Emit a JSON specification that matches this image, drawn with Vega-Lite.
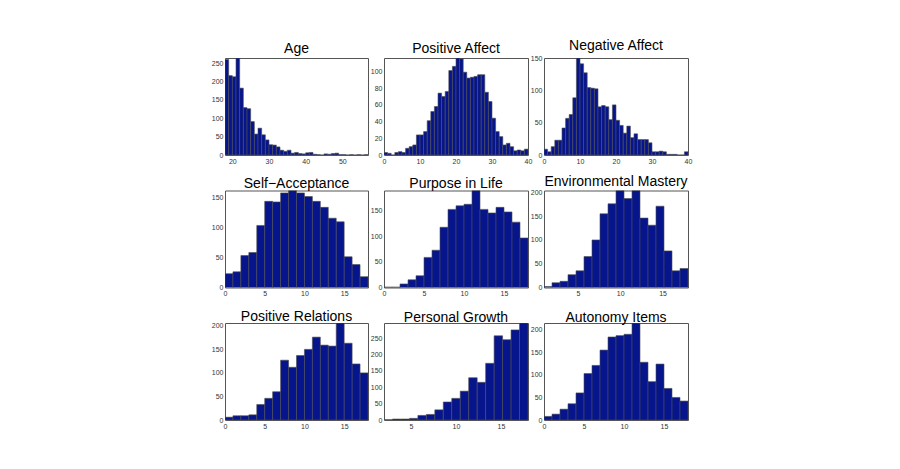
{
  "$schema": "https://vega.github.io/schema/vega-lite/v6.json",
  "background": "white",
  "padding": {"left": 210, "top": 38, "right": 0, "bottom": 0},
  "data": {"values": [
    {"p":"Age","a":18,"b":19,"n":260},{"p":"Age","a":19,"b":20,"n":216},{"p":"Age","a":20,"b":21,"n":213},{"p":"Age","a":21,"b":22,"n":264},{"p":"Age","a":22,"b":23,"n":182},{"p":"Age","a":23,"b":24,"n":129},{"p":"Age","a":24,"b":25,"n":126},{"p":"Age","a":25,"b":26,"n":91},{"p":"Age","a":26,"b":27,"n":57},{"p":"Age","a":27,"b":28,"n":73},{"p":"Age","a":28,"b":29,"n":55},{"p":"Age","a":29,"b":30,"n":41},{"p":"Age","a":30,"b":31,"n":28},{"p":"Age","a":31,"b":32,"n":27},{"p":"Age","a":32,"b":33,"n":22},{"p":"Age","a":33,"b":34,"n":13},{"p":"Age","a":34,"b":35,"n":10},{"p":"Age","a":35,"b":36,"n":13},{"p":"Age","a":36,"b":37,"n":5},{"p":"Age","a":37,"b":38,"n":7},{"p":"Age","a":38,"b":39,"n":4},{"p":"Age","a":39,"b":40,"n":3},{"p":"Age","a":40,"b":41,"n":6},{"p":"Age","a":41,"b":42,"n":7},{"p":"Age","a":42,"b":43,"n":2},{"p":"Age","a":43,"b":44,"n":1},{"p":"Age","a":44,"b":45,"n":0},{"p":"Age","a":45,"b":46,"n":3},{"p":"Age","a":46,"b":47,"n":2},{"p":"Age","a":47,"b":48,"n":4},{"p":"Age","a":48,"b":49,"n":5},{"p":"Age","a":49,"b":50,"n":1},{"p":"Age","a":50,"b":51,"n":1},{"p":"Age","a":51,"b":52,"n":0},{"p":"Age","a":52,"b":53,"n":1},{"p":"Age","a":53,"b":54,"n":0},{"p":"Age","a":54,"b":55,"n":1},{"p":"Age","a":55,"b":56,"n":0},{"p":"Age","a":56,"b":57,"n":1},
    {"p":"PA","a":0,"b":1,"n":3},{"p":"PA","a":1,"b":2,"n":2},{"p":"PA","a":2,"b":3,"n":0},{"p":"PA","a":3,"b":4,"n":3},{"p":"PA","a":4,"b":5,"n":4},{"p":"PA","a":5,"b":6,"n":3},{"p":"PA","a":6,"b":7,"n":8},{"p":"PA","a":7,"b":8,"n":10},{"p":"PA","a":8,"b":9,"n":12},{"p":"PA","a":9,"b":10,"n":24},{"p":"PA","a":10,"b":11,"n":24},{"p":"PA","a":11,"b":12,"n":28},{"p":"PA","a":12,"b":13,"n":41},{"p":"PA","a":13,"b":14,"n":52},{"p":"PA","a":14,"b":15,"n":58},{"p":"PA","a":15,"b":16,"n":74},{"p":"PA","a":16,"b":17,"n":70},{"p":"PA","a":17,"b":18,"n":76},{"p":"PA","a":18,"b":19,"n":101},{"p":"PA","a":19,"b":20,"n":106},{"p":"PA","a":20,"b":21,"n":116},{"p":"PA","a":21,"b":22,"n":115},{"p":"PA","a":22,"b":23,"n":99},{"p":"PA","a":23,"b":24,"n":92},{"p":"PA","a":24,"b":25,"n":93},{"p":"PA","a":25,"b":26,"n":94},{"p":"PA","a":26,"b":27,"n":96},{"p":"PA","a":27,"b":28,"n":96},{"p":"PA","a":28,"b":29,"n":75},{"p":"PA","a":29,"b":30,"n":64},{"p":"PA","a":30,"b":31,"n":44},{"p":"PA","a":31,"b":32,"n":28},{"p":"PA","a":32,"b":33,"n":22},{"p":"PA","a":33,"b":34,"n":12},{"p":"PA","a":34,"b":35,"n":14},{"p":"PA","a":35,"b":36,"n":10},{"p":"PA","a":36,"b":37,"n":5},{"p":"PA","a":37,"b":38,"n":6},{"p":"PA","a":38,"b":39,"n":5},{"p":"PA","a":39,"b":40,"n":7},
    {"p":"NA","a":0,"b":1,"n":9},{"p":"NA","a":1,"b":2,"n":5},{"p":"NA","a":2,"b":3,"n":13},{"p":"NA","a":3,"b":4,"n":23},{"p":"NA","a":4,"b":5,"n":23},{"p":"NA","a":5,"b":6,"n":42},{"p":"NA","a":6,"b":7,"n":57},{"p":"NA","a":7,"b":8,"n":63},{"p":"NA","a":8,"b":9,"n":89},{"p":"NA","a":9,"b":10,"n":151},{"p":"NA","a":10,"b":11,"n":142},{"p":"NA","a":11,"b":12,"n":128},{"p":"NA","a":12,"b":13,"n":105},{"p":"NA","a":13,"b":14,"n":104},{"p":"NA","a":14,"b":15,"n":103},{"p":"NA","a":15,"b":16,"n":75},{"p":"NA","a":16,"b":17,"n":77},{"p":"NA","a":17,"b":18,"n":75},{"p":"NA","a":18,"b":19,"n":55},{"p":"NA","a":19,"b":20,"n":78},{"p":"NA","a":20,"b":21,"n":54},{"p":"NA","a":21,"b":22,"n":46},{"p":"NA","a":22,"b":23,"n":34},{"p":"NA","a":23,"b":24,"n":45},{"p":"NA","a":24,"b":25,"n":27},{"p":"NA","a":25,"b":26,"n":33},{"p":"NA","a":26,"b":27,"n":24},{"p":"NA","a":27,"b":28,"n":24},{"p":"NA","a":28,"b":29,"n":24},{"p":"NA","a":29,"b":30,"n":19},{"p":"NA","a":30,"b":31,"n":5},{"p":"NA","a":31,"b":32,"n":5},{"p":"NA","a":32,"b":33,"n":6},{"p":"NA","a":33,"b":34,"n":5},{"p":"NA","a":34,"b":35,"n":1},{"p":"NA","a":35,"b":36,"n":1},{"p":"NA","a":36,"b":37,"n":1},{"p":"NA","a":37,"b":38,"n":0},{"p":"NA","a":38,"b":39,"n":0},{"p":"NA","a":39,"b":40,"n":5},
    {"p":"SA","a":0,"b":1,"n":23},{"p":"SA","a":1,"b":2,"n":26},{"p":"SA","a":2,"b":3,"n":53},{"p":"SA","a":3,"b":4,"n":58},{"p":"SA","a":4,"b":5,"n":103},{"p":"SA","a":5,"b":6,"n":143},{"p":"SA","a":6,"b":7,"n":142},{"p":"SA","a":7,"b":8,"n":157},{"p":"SA","a":8,"b":9,"n":161},{"p":"SA","a":9,"b":10,"n":157},{"p":"SA","a":10,"b":11,"n":151},{"p":"SA","a":11,"b":12,"n":143},{"p":"SA","a":12,"b":13,"n":133},{"p":"SA","a":13,"b":14,"n":115},{"p":"SA","a":14,"b":15,"n":109},{"p":"SA","a":15,"b":16,"n":51},{"p":"SA","a":16,"b":17,"n":38},{"p":"SA","a":17,"b":18,"n":18},
    {"p":"PL","a":0,"b":1,"n":1},{"p":"PL","a":1,"b":2,"n":1},{"p":"PL","a":2,"b":3,"n":7},{"p":"PL","a":3,"b":4,"n":15},{"p":"PL","a":4,"b":5,"n":23},{"p":"PL","a":5,"b":6,"n":59},{"p":"PL","a":6,"b":7,"n":73},{"p":"PL","a":7,"b":8,"n":118},{"p":"PL","a":8,"b":9,"n":153},{"p":"PL","a":9,"b":10,"n":160},{"p":"PL","a":10,"b":11,"n":163},{"p":"PL","a":11,"b":12,"n":190},{"p":"PL","a":12,"b":13,"n":153},{"p":"PL","a":13,"b":14,"n":146},{"p":"PL","a":14,"b":15,"n":157},{"p":"PL","a":15,"b":16,"n":148},{"p":"PL","a":16,"b":17,"n":128},{"p":"PL","a":17,"b":18,"n":97},
    {"p":"EM","a":1,"b":1.944,"n":2},{"p":"EM","a":1.944,"b":2.889,"n":10},{"p":"EM","a":2.889,"b":3.833,"n":13},{"p":"EM","a":3.833,"b":4.778,"n":27},{"p":"EM","a":4.778,"b":5.722,"n":35},{"p":"EM","a":5.722,"b":6.667,"n":65},{"p":"EM","a":6.667,"b":7.611,"n":100},{"p":"EM","a":7.611,"b":8.556,"n":155},{"p":"EM","a":8.556,"b":9.5,"n":176},{"p":"EM","a":9.5,"b":10.444,"n":204},{"p":"EM","a":10.444,"b":11.389,"n":187},{"p":"EM","a":11.389,"b":12.333,"n":204},{"p":"EM","a":12.333,"b":13.278,"n":146},{"p":"EM","a":13.278,"b":14.222,"n":131},{"p":"EM","a":14.222,"b":15.167,"n":171},{"p":"EM","a":15.167,"b":16.111,"n":77},{"p":"EM","a":16.111,"b":17.056,"n":35},{"p":"EM","a":17.056,"b":18,"n":40},
    {"p":"PR","a":0,"b":1,"n":6},{"p":"PR","a":1,"b":2,"n":9},{"p":"PR","a":2,"b":3,"n":9},{"p":"PR","a":3,"b":4,"n":11},{"p":"PR","a":4,"b":5,"n":33},{"p":"PR","a":5,"b":6,"n":46},{"p":"PR","a":6,"b":7,"n":60},{"p":"PR","a":7,"b":8,"n":127},{"p":"PR","a":8,"b":9,"n":112},{"p":"PR","a":9,"b":10,"n":137},{"p":"PR","a":10,"b":11,"n":150},{"p":"PR","a":11,"b":12,"n":176},{"p":"PR","a":12,"b":13,"n":159},{"p":"PR","a":13,"b":14,"n":157},{"p":"PR","a":14,"b":15,"n":206},{"p":"PR","a":15,"b":16,"n":163},{"p":"PR","a":16,"b":17,"n":119},{"p":"PR","a":17,"b":18,"n":100},
    {"p":"PG","a":2,"b":2.941,"n":1},{"p":"PG","a":2.941,"b":3.882,"n":3},{"p":"PG","a":3.882,"b":4.824,"n":3},{"p":"PG","a":4.824,"b":5.765,"n":5},{"p":"PG","a":5.765,"b":6.706,"n":14},{"p":"PG","a":6.706,"b":7.647,"n":17},{"p":"PG","a":7.647,"b":8.588,"n":31},{"p":"PG","a":8.588,"b":9.529,"n":55},{"p":"PG","a":9.529,"b":10.471,"n":66},{"p":"PG","a":10.471,"b":11.412,"n":88},{"p":"PG","a":11.412,"b":12.353,"n":129},{"p":"PG","a":12.353,"b":13.294,"n":115},{"p":"PG","a":13.294,"b":14.235,"n":173},{"p":"PG","a":14.235,"b":15.176,"n":257},{"p":"PG","a":15.176,"b":16.118,"n":245},{"p":"PG","a":16.118,"b":17.059,"n":275},{"p":"PG","a":17.059,"b":18,"n":296},
    {"p":"AI","a":0,"b":1,"n":8},{"p":"AI","a":1,"b":2,"n":13},{"p":"AI","a":2,"b":3,"n":24},{"p":"AI","a":3,"b":4,"n":36},{"p":"AI","a":4,"b":5,"n":60},{"p":"AI","a":5,"b":6,"n":103},{"p":"AI","a":6,"b":7,"n":121},{"p":"AI","a":7,"b":8,"n":155},{"p":"AI","a":8,"b":9,"n":184},{"p":"AI","a":9,"b":10,"n":187},{"p":"AI","a":10,"b":11,"n":190},{"p":"AI","a":11,"b":12,"n":215},{"p":"AI","a":12,"b":13,"n":128},{"p":"AI","a":13,"b":14,"n":85},{"p":"AI","a":14,"b":15,"n":124},{"p":"AI","a":15,"b":16,"n":70},{"p":"AI","a":16,"b":17,"n":50},{"p":"AI","a":17,"b":18,"n":42}
  ]},
  "columns": 3,
  "spacing": {"row": 35.5, "column": 16},
  "bounds": "flush",
  "concat": [
    {"title": {"text": "Age", "offset": 2}, "width": 143, "height": 97,
     "transform": [{"filter": "datum.p === 'Age'"}],
     "mark": {"type": "bar", "clip": true},
     "encoding": {
       "x": {"field": "a", "type": "quantitative", "scale": {"domain": [18, 57], "nice": false, "zero": false}, "axis": {"values": [20, 30, 40, 50]}},
       "x2": {"field": "b"},
       "y": {"field": "n", "type": "quantitative", "scale": {"domain": [0, 264], "nice": false}, "axis": {"values": [0, 50, 100, 150, 200, 250]}},
       "y2": {"datum": 0}
     }},
    {"title": {"text": "Positive Affect", "offset": 2}, "width": 144, "height": 97,
     "transform": [{"filter": "datum.p === 'PA'"}],
     "mark": {"type": "bar", "clip": true},
     "encoding": {
       "x": {"field": "a", "type": "quantitative", "scale": {"domain": [0, 40], "nice": false, "zero": false}, "axis": {"values": [0, 10, 20, 30, 40]}},
       "x2": {"field": "b"},
       "y": {"field": "n", "type": "quantitative", "scale": {"domain": [0, 116], "nice": false}, "axis": {"values": [0, 20, 40, 60, 80, 100]}},
       "y2": {"datum": 0}
     }},
    {"title": {"text": "Negative Affect", "offset": 2}, "width": 144, "height": 97,
     "transform": [{"filter": "datum.p === 'NA'"}],
     "mark": {"type": "bar", "clip": true},
     "encoding": {
       "x": {"field": "a", "type": "quantitative", "scale": {"domain": [0, 40], "nice": false, "zero": false}, "axis": {"values": [0, 10, 20, 30, 40]}},
       "x2": {"field": "b"},
       "y": {"field": "n", "type": "quantitative", "scale": {"domain": [0, 151], "nice": false}, "axis": {"values": [0, 50, 100, 150]}},
       "y2": {"datum": 0}
     }},
    {"title": {"text": "Self\u2212Acceptance", "offset": -0.5}, "width": 143, "height": 97,
     "transform": [{"filter": "datum.p === 'SA'"}],
     "mark": {"type": "bar", "clip": true},
     "encoding": {
       "x": {"field": "a", "type": "quantitative", "scale": {"domain": [0, 18], "nice": false, "zero": false}, "axis": {"values": [0, 5, 10, 15]}},
       "x2": {"field": "b"},
       "y": {"field": "n", "type": "quantitative", "scale": {"domain": [0, 161], "nice": false}, "axis": {"values": [0, 50, 100, 150]}},
       "y2": {"datum": 0}
     }},
    {"title": {"text": "Purpose in Life", "offset": -0.5}, "width": 144, "height": 97,
     "transform": [{"filter": "datum.p === 'PL'"}],
     "mark": {"type": "bar", "clip": true},
     "encoding": {
       "x": {"field": "a", "type": "quantitative", "scale": {"domain": [0, 18], "nice": false, "zero": false}, "axis": {"values": [0, 5, 10, 15]}},
       "x2": {"field": "b"},
       "y": {"field": "n", "type": "quantitative", "scale": {"domain": [0, 190], "nice": false}, "axis": {"values": [0, 50, 100, 150]}},
       "y2": {"datum": 0}
     }},
    {"title": {"text": "Environmental Mastery", "offset": -0.5}, "width": 144, "height": 97,
     "transform": [{"filter": "datum.p === 'EM'"}],
     "mark": {"type": "bar", "clip": true},
     "encoding": {
       "x": {"field": "a", "type": "quantitative", "scale": {"domain": [1, 18], "nice": false, "zero": false}, "axis": {"values": [5, 10, 15]}},
       "x2": {"field": "b"},
       "y": {"field": "n", "type": "quantitative", "scale": {"domain": [0, 204], "nice": false}, "axis": {"values": [0, 50, 100, 150, 200]}},
       "y2": {"datum": 0}
     }},
    {"title": {"text": "Positive Relations", "offset": -2}, "width": 143, "height": 97,
     "transform": [{"filter": "datum.p === 'PR'"}],
     "mark": {"type": "bar", "clip": true},
     "encoding": {
       "x": {"field": "a", "type": "quantitative", "scale": {"domain": [0, 18], "nice": false, "zero": false}, "axis": {"values": [0, 5, 10, 15]}},
       "x2": {"field": "b"},
       "y": {"field": "n", "type": "quantitative", "scale": {"domain": [0, 206], "nice": false}, "axis": {"values": [0, 50, 100, 150, 200]}},
       "y2": {"datum": 0}
     }},
    {"title": {"text": "Personal Growth", "offset": -2}, "width": 144, "height": 97,
     "transform": [{"filter": "datum.p === 'PG'"}],
     "mark": {"type": "bar", "clip": true},
     "encoding": {
       "x": {"field": "a", "type": "quantitative", "scale": {"domain": [2, 18], "nice": false, "zero": false}, "axis": {"values": [5, 10, 15]}},
       "x2": {"field": "b"},
       "y": {"field": "n", "type": "quantitative", "scale": {"domain": [0, 296], "nice": false}, "axis": {"values": [0, 50, 100, 150, 200, 250]}},
       "y2": {"datum": 0}
     }},
    {"title": {"text": "Autonomy Items", "offset": -2}, "width": 144, "height": 97,
     "transform": [{"filter": "datum.p === 'AI'"}],
     "mark": {"type": "bar", "clip": true},
     "encoding": {
       "x": {"field": "a", "type": "quantitative", "scale": {"domain": [0, 18], "nice": false, "zero": false}, "axis": {"values": [0, 5, 10, 15]}},
       "x2": {"field": "b"},
       "y": {"field": "n", "type": "quantitative", "scale": {"domain": [0, 215], "nice": false}, "axis": {"values": [0, 50, 100, 150, 200]}},
       "y2": {"datum": 0}
     }}
  ],
  "config": {
    "font": "Liberation Sans",
    "view": {"stroke": "#555555", "strokeWidth": 1, "fill": "white"},
    "bar": {"fill": "#06158c", "stroke": "#4d4d4d", "strokeWidth": 0.6},
    "axis": {"title": null, "domain": false, "grid": false, "ticks": false, "labelFontSize": 7, "labelColor": "#333333", "labelFont": "Liberation Sans", "labelPadding": 2, "labelFlush": false, "labelOverlap": false},
    "title": {"fontSize": 14, "fontWeight": "normal", "font": "Liberation Sans", "color": "#000000", "anchor": "middle"}
  }
}
